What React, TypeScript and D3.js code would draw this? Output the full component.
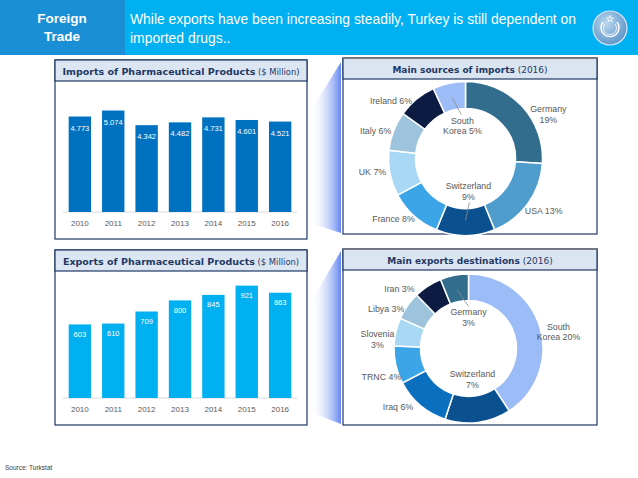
import React from 'react';
import * as d3 from 'd3';

const YEARS = ['2010', '2011', '2012', '2013', '2014', '2015', '2016'];
const IMPORTS = [4773, 5074, 4342, 4482, 4731, 4601, 4521];
const EXPORTS = [603, 610, 709, 800, 845, 921, 863];

const IMPORT_SOURCES = ['Germany', 'USA', 'Switzerland', 'France', 'UK', 'Italy', 'Ireland', 'South Korea'];
const IMPORT_SHARES = [19, 13, 9, 8, 7, 6, 6, 5];

const EXPORT_DESTS = ['South Korea', 'Switzerland', 'Iraq', 'TRNC', 'Slovenia', 'Libya', 'Iran', 'Germany'];
const EXPORT_SHARES = [20, 7, 6, 4, 3, 3, 3, 3];

const COLORS: Record<string, string> = {
  Germany: '#336d8e',
  USA: '#4e9dcc',
  Switzerland: '#0b5190',
  France: '#3ba5e7',
  UK: '#a8d8f4',
  Italy: '#9dc3dd',
  Ireland: '#0b1b42',
  'South Korea': '#9bbcf6',
  Iraq: '#0b6fc0',
  TRNC: '#3ba5e7',
  Slovenia: '#a8d8f4',
  Libya: '#9dc3dd',
  Iran: '#0b1b42',
};

const FONT = "'Liberation Sans', Arial, sans-serif";
const TITLE_FONT = "'DejaVu Sans', Verdana, sans-serif";
const NAVY = '#1f3864';
const LABEL_GRAY = '#595959';

const fmt = (v: number) => d3.format(',')(v).replace(/,/g, '.');

type BarProps = {
  top: number;
  title: string;
  values: number[];
  max: number;
  color: string;
  plotTop: number;
  baseline: number;
  labelDy: number;
};

const BarPanel = ({ top, title, values, max, color, plotTop, baseline, labelDy }: BarProps) => {
  const x = d3.scaleBand().domain(YEARS).range([63, 297]).paddingInner(0.33).paddingOuter(0.17);
  const y = d3.scaleLinear().domain([0, max]).range([baseline, plotTop]);
  const bottom = baseline + 27;
  return (
    <g>
      <rect x={55} y={top} width={252} height={bottom - top} fill="#fff" stroke={NAVY} strokeWidth={1.2} />
      <rect x={55} y={top} width={252} height={21} fill="#dce6f2" stroke={NAVY} strokeWidth={1.2} />
      <text x={181} y={top + 14.5} textAnchor="middle" fontFamily={TITLE_FONT} fill={NAVY}>
        <tspan fontWeight="bold" fontSize={9.5}>{title}</tspan>
        <tspan fontSize={8.4}> ($ Million)</tspan>
      </text>
      <line x1={63} x2={297} y1={baseline} y2={baseline} stroke="#d9d9d9" strokeWidth={1} />
      {values.map((v, i) => {
        const bx = x(YEARS[i]) as number;
        return (
          <g key={YEARS[i]}>
            <rect x={bx} y={y(v)} width={x.bandwidth()} height={baseline - y(v)} fill={color} />
            <text x={bx + x.bandwidth() / 2} y={y(v) + labelDy} textAnchor="middle" fontFamily={FONT} fontSize={7.5} fill="#fff">
              {fmt(v)}
            </text>
            <text x={bx + x.bandwidth() / 2} y={baseline + 14} textAnchor="middle" fontFamily={FONT} fontSize={8} fill={LABEL_GRAY}>
              {YEARS[i]}
            </text>
          </g>
        );
      })}
    </g>
  );
};

type DonutProps = {
  top: number;
  bottom: number;
  titleBold: string;
  cx: number;
  cy: number;
  outer: number;
  inner: number;
  names: string[];
  shares: number[];
  inside: string[];
  wrap: string[];
  leaders: string[];
  nudge: number[];
};

const DonutPanel = ({ top, bottom, titleBold, cx, cy, outer, inner, names, shares, inside, wrap, leaders, nudge }: DonutProps) => {
  const pie = d3.pie<number>().sort(null).value((d) => d);
  const arcs = pie(shares);
  const arc = d3.arc<d3.PieArcDatum<number>>().innerRadius(inner).outerRadius(outer);
  const polar = (a: number, r: number): [number, number] => [cx + r * Math.sin(a), cy - r * Math.cos(a)];
  const lh = 10.5;
  return (
    <g>
      <rect x={343} y={top} width={254} height={bottom - top} fill="#fff" stroke={NAVY} strokeWidth={1.2} />
      <rect x={343} y={top} width={254} height={21} fill="#dbe5f1" stroke={NAVY} strokeWidth={1.2} />
      <line x1={343} x2={597} y1={top} y2={top} stroke="#7f7f7f" strokeWidth={1.5} />
      <text x={470} y={top + 14.5} textAnchor="middle" fontFamily={TITLE_FONT} fill={NAVY}>
        <tspan fontWeight="bold" fontSize={9}>{titleBold}</tspan>
        <tspan fontSize={9}> (2016)</tspan>
      </text>
      <g transform={`translate(${cx},${cy})`}>
        {arcs.map((a, i) => (
          <path key={names[i]} d={arc(a) as string} fill={COLORS[names[i]]} stroke="#fff" strokeWidth={1.5} />
        ))}
      </g>
      {arcs.map((a, i) => {
        const name = names[i];
        const mid = (a.startAngle + a.endAngle) / 2;
        const la = mid + (nudge[i] * Math.PI) / 180;
        const isIn = inside.includes(name);
        const r = isIn ? inner - 17 : outer + 17;
        const [lx, ly] = polar(la, r);
        const pct = `${shares[i]}%`;
        let lines: string[];
        if (name.includes(' ')) {
          const [w1, w2] = name.split(' ');
          lines = [w1, `${w2} ${pct}`];
        } else if (wrap.includes(name)) {
          lines = [name, pct];
        } else {
          lines = [`${name} ${pct}`];
        }
        const y0 = ly - ((lines.length - 1) * lh) / 2 + 3.2;
        let leader = null;
        if (leaders.includes(name)) {
          const [x1, y1] = polar(mid, inner + 12);
          const [x2, y2] = polar(la, inner - 6);
          leader = <line x1={x1} y1={y1} x2={x2} y2={y2} stroke="#8c8c8c" strokeWidth={0.8} />;
        }
        return (
          <g key={name}>
            {leader}
            <text textAnchor="middle" fontFamily={FONT} fontSize={8.8} fill={LABEL_GRAY}>
              {lines.map((l, j) => (
                <tspan key={j} x={lx} y={y0 + j * lh}>
                  {l}
                </tspan>
              ))}
            </text>
          </g>
        );
      })}
    </g>
  );
};

export default function App() {
  return (
    <svg width={638} height={478} style={{ position: 'absolute', left: 0, top: 0 }}>
      <defs>
        <linearGradient id="zoomGrad" x1="0" x2="1" y1="0" y2="0">
          <stop offset="0" stopColor="#ffffff" stopOpacity={0} />
          <stop offset="1" stopColor="#5b80f0" stopOpacity={0.95} />
        </linearGradient>
        <radialGradient id="logoGrad" cx="0.4" cy="0.35" r="0.7">
          <stop offset="0" stopColor="#b8d6ee" />
          <stop offset="1" stopColor="#5b93c7" />
        </radialGradient>
      </defs>
      <rect x={0} y={0} width={638} height={478} fill="#fff" />
      {/* header */}
      <rect x={0} y={0} width={638} height={55} fill="#00b0f0" />
      <rect x={0} y={0} width={125} height={55} fill="#1a8fd6" />
      <text x={62} textAnchor="middle" fontFamily={FONT} fontWeight="bold" fontSize={13.5} fill="#fff">
        <tspan x={62} y={23}>Foreign</tspan>
        <tspan x={62} y={41}>Trade</tspan>
      </text>
      <text fontFamily={FONT} fontSize={13.9} fill="#fff">
        <tspan x={130} y={24}>While exports have been increasing steadily, Turkey is still dependent on</tspan>
        <tspan x={130} y={43}>imported drugs..</tspan>
      </text>
      <g>
        <circle cx={610} cy={28} r={17} fill="url(#logoGrad)" stroke="#d6e6f4" strokeWidth={1.2} />
        <path d="M603,22 A9,9 0 1,0 617,22" fill="none" stroke="#fff" strokeWidth={1.4} />
        <path d="M605,24 A6.5,6.5 0 1,0 615,24" fill="none" stroke="#fff" strokeWidth={0.8} />
        <path d={d3.symbol(d3.symbolStar, 14)() as string} transform="translate(610,19)" fill="none" stroke="#fff" strokeWidth={0.8} />
      </g>

      {/* zoom wedges */}
      <polygon points="341,62 341,233 310,223 310,112" fill="url(#zoomGrad)" />
      <polygon points="341,251 341,424 310,412 310,303" fill="url(#zoomGrad)" />

      <BarPanel top={60} title="Imports of Pharmaceutical Products" values={IMPORTS} max={5600} color="#0070c0" plotTop={100} baseline={212} labelDy={14} />
      <BarPanel top={250} title="Exports of Pharmaceutical Products" values={EXPORTS} max={1000} color="#00b0f0" plotTop={276} baseline={398} labelDy={12.5} />

      <DonutPanel
        top={58}
        bottom={234}
        titleBold="Main sources of imports"
        cx={465.5}
        cy={158.5}
        outer={77}
        inner={50}
        names={IMPORT_SOURCES}
        shares={IMPORT_SHARES}
        inside={['Switzerland', 'South Korea']}
        wrap={['Germany', 'Switzerland']}
        leaders={['Switzerland', 'South Korea']}
        nudge={[15, -2, -5, 8, 3, -4, -13, 7]}
      />
      <DonutPanel
        top={249}
        bottom={425}
        titleBold="Main exports destinations"
        cx={468.5}
        cy={348.5}
        outer={74.5}
        inner={48}
        names={EXPORT_DESTS}
        shares={EXPORT_SHARES}
        inside={['Switzerland', 'Germany']}
        wrap={['Slovenia', 'Germany', 'Switzerland']}
        leaders={['Germany']}
        nudge={[6, 0, 10, -5, -7, -9, -16, 11]}
      />

      <text x={5} y={470} fontFamily={FONT} fontSize={6.5} fill="#404040">
        Source: Turkstat
      </text>
    </svg>
  );
}
